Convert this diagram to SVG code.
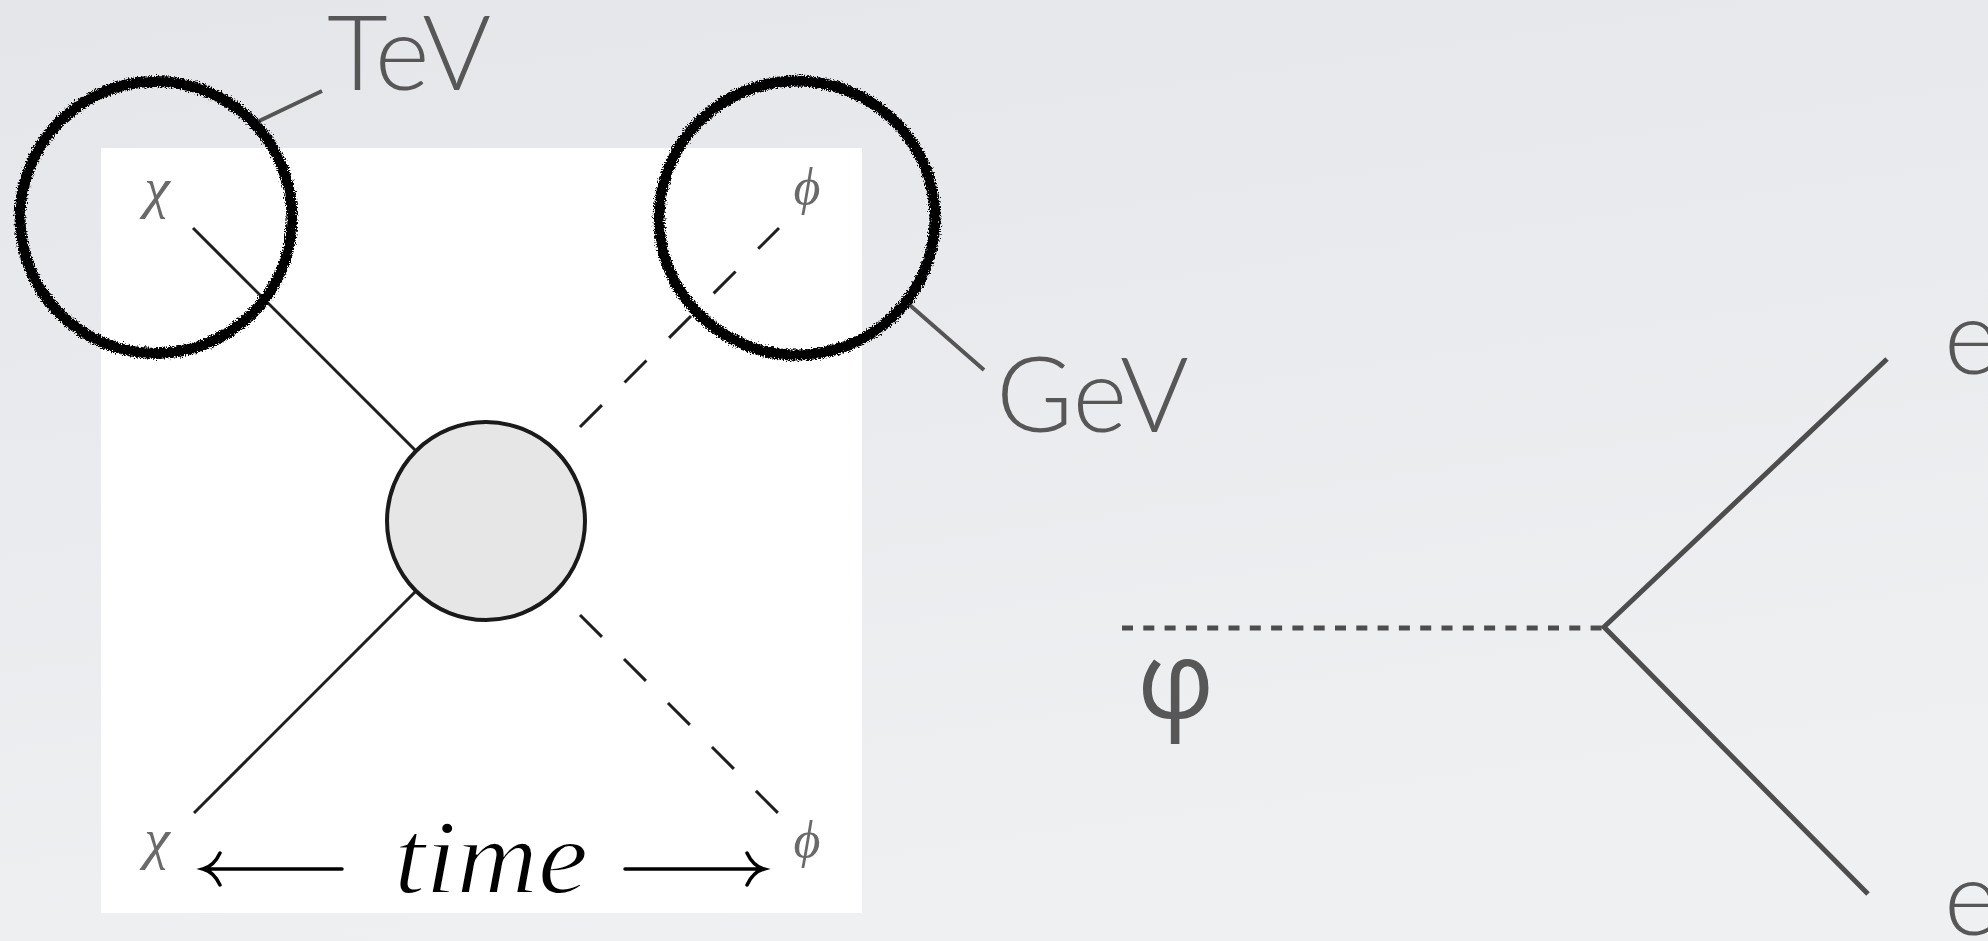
<svg xmlns="http://www.w3.org/2000/svg" width="1988" height="941" viewBox="0 0 1988 941">
  <defs>
    <linearGradient id="bg" x1="0" y1="0" x2="0.3" y2="1">
      <stop offset="0" stop-color="#e4e6e9"/>
      <stop offset="1" stop-color="#eff0f2"/>
    </linearGradient>
    <filter id="rough" x="-10%" y="-10%" width="120%" height="120%">
      <feTurbulence type="fractalNoise" baseFrequency="0.7" numOctaves="3" seed="3" result="n"/>
      <feDisplacementMap in="SourceGraphic" in2="n" scale="7" xChannelSelector="R" yChannelSelector="G"/>
    </filter>
    <filter id="soft" x="-20%" y="-20%" width="140%" height="140%">
      <feGaussianBlur stdDeviation="0.7"/>
    </filter>
  </defs>
  <style>
    .label { font-family: "Lato", "Open Sans", "Liberation Sans", sans-serif; font-weight: 300; fill: #575757; }
    .greek { font-family: "Liberation Serif", "DejaVu Serif", serif; font-style: italic; font-weight: 400; fill: #6a6a6a; }
    .time { font-family: "Liberation Serif", "DejaVu Serif", serif; font-style: italic; font-weight: 400; fill: #000000; stroke: #ffffff; stroke-width: 1.8; }
    .feyn { stroke: #1e1e1e; stroke-width: 3; fill: none; }
    .dash { stroke: #1e1e1e; stroke-width: 3; fill: none; }
    .lead { stroke: #555555; stroke-width: 4; fill: none; }
    .right { stroke: #4d4d4d; stroke-width: 5; fill: none; }
    .arrow { stroke: #000000; stroke-width: 3.5; fill: none; stroke-linecap: round; }
    .ring { stroke: #000000; stroke-width: 11; fill: none; }
  </style>

  <rect width="1988" height="941" fill="url(#bg)"/>

  <g id="panel">
    <rect x="101" y="148" width="761" height="765" fill="#ffffff"/>
  </g>

  <g id="connectors">
    <line class="feyn" x1="193" y1="228" x2="416" y2="451"/>
    <line class="feyn" x1="194" y1="813" x2="416" y2="591"/>
    <line class="dash" x1="580" y1="427" x2="779" y2="228" stroke-dasharray="31 32"/>
    <line class="dash" x1="580" y1="615" x2="778" y2="813" stroke-dasharray="31 31.2"/>
    <line class="lead" x1="257" y1="122" x2="322" y2="91"/>
    <line class="lead" x1="904" y1="300" x2="984" y2="370"/>
    <line class="right" x1="1122" y1="628" x2="1602" y2="628" stroke-dasharray="11 10.3"/>
    <polyline class="right" points="1887,359 1604,627 1868,894"/>
  </g>

  <g id="blob">
    <circle cx="486" cy="521" r="99" fill="#e6e6e6" stroke="#1a1a1a" stroke-width="4"/>
  </g>

  <g id="chi-top">
    <text class="greek" x="157" y="207" font-size="58" text-anchor="middle" filter="url(#soft)">χ</text>
  </g>
  <g id="phi-top">
    <text class="greek" x="807" y="204" font-size="52" text-anchor="middle" filter="url(#soft)">ϕ</text>
  </g>
  <g id="chi-bottom">
    <text class="greek" x="157" y="858" font-size="58" text-anchor="middle" filter="url(#soft)">χ</text>
  </g>
  <g id="phi-bottom">
    <text class="greek" x="807" y="857" font-size="52" text-anchor="middle" filter="url(#soft)">ϕ</text>
  </g>

  <g id="time-axis">
    <path class="arrow" d="M342 869 L205 869 M220 853 Q214 866 203 869 Q214 872 220 885"/>
    <text class="time" x="394" y="893" font-size="106" textLength="194" lengthAdjust="spacingAndGlyphs">time</text>
    <path class="arrow" d="M625 869 L762 869 M747 853 Q753 866 764 869 Q753 872 747 885"/>
  </g>

  <g id="ring-tev">
    <circle class="ring" cx="156" cy="217.5" r="136" filter="url(#rough)"/>
  </g>
  <g id="ring-gev">
    <ellipse class="ring" cx="797" cy="218" rx="138" ry="137" filter="url(#rough)"/>
  </g>

  <g id="label-tev">
    <text class="label" x="327" y="90" font-size="105">TeV</text>
  </g>
  <g id="label-gev">
    <text class="label" x="996" y="432" font-size="105">GeV</text>
  </g>

  <g id="label-phi">
    <text x="1137" y="718" font-family="'Open Sans', 'Noto Sans', sans-serif" font-size="108" fill="#575757">φ</text>
  </g>
  <g id="label-e-top">
    <text class="label" x="1944" y="374" font-size="105">e</text>
  </g>
  <g id="label-e-bottom">
    <text class="label" x="1944" y="935" font-size="105">e</text>
  </g>
</svg>
